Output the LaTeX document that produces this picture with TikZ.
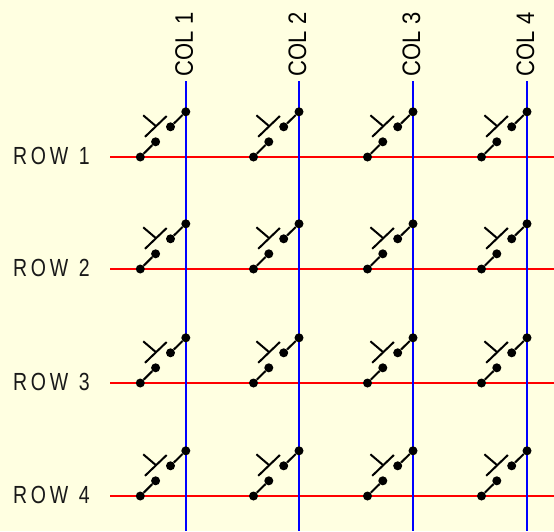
\documentclass[tikz,border=0pt]{standalone}
\usepackage{fontspec}
\setmainfont{Liberation Sans}
\definecolor{bg}{HTML}{FFFFE1}
\definecolor{wirered}{HTML}{FF0000}
\definecolor{wireblue}{HTML}{0000FF}
\tikzset{
  dotnode/.style={circle,fill=black,inner sep=0pt,minimum size=9pt},
  swline/.style={draw=black,line width=2pt},
  rowwire/.style={draw=wirered,line width=2.2pt},
  colwire/.style={draw=wireblue,line width=2.4pt},
  rowlabel/.style={anchor=base west,inner sep=0pt,text=black!90,font=\fontsize{19.5pt}{19.5pt}\selectfont\addfontfeature{LetterSpace=19},yscale=1.27},
  collabel/.style={anchor=base west,inner sep=0pt,rotate=90,yscale=1.15,text=black,font=\fontsize{22pt}{22pt}\selectfont},
}
\begin{document}
\begin{tikzpicture}[x=1pt,y=-1pt]
\path[fill=bg] (0,0) rectangle (554,531);
\useasboundingbox (0,0) rectangle (554,531);
% wires
\foreach \r/\ry in {1/157,2/269,3/383,4/496}{
  \coordinate (rs\r) at (110,\ry);
  \coordinate (re\r) at (554,\ry);
  \draw[rowwire] (rs\r) -- (re\r);
  \node[rowlabel] (rowlab\r) at (13,\ry+7.6) {ROW\hspace{1.5pt} \r};
}
\foreach \c/\cx in {1/185.8,2/299,3/413,4/527}{
  \coordinate (cs\c) at (\cx,81);
  \coordinate (ce\c) at (\cx,531);
  \draw[colwire] (cs\c) -- (ce\c);
  \node[collabel] (collab\c) at (\cx+7,76.5) {COL \c};
}
% switches
\foreach \c/\cx in {1/185.8,2/299,3/413,4/527}{
  \foreach \r/\ry in {1/157,2/269,3/383,4/496}{
    \node[dotnode] (a\c\r) at (\cx-45.5,\ry) {};
    \node[dotnode] (b\c\r) at (\cx-30.2,\ry-15.2) {};
    \node[dotnode] (d\c\r) at (\cx-15.3,\ry-30.2) {};
    \node[dotnode] (e\c\r) at (\cx,\ry-45.2) {};
    \draw[swline] (a\c\r) -- (b\c\r);
    \draw[swline] (d\c\r) -- (e\c\r);
    \coordinate (p\c\r) at (\cx-40.8,\ry-20.2);
    \coordinate (q\c\r) at (\cx-19.1,\ry-41);
    \coordinate (u\c\r) at (\cx-42.6,\ry-41.7);
    \coordinate (v\c\r) at (\cx-29.8,\ry-30.8);
    \draw[swline] (p\c\r) -- (q\c\r);
    \draw[swline] (u\c\r) -- (v\c\r);
  }
}
\end{tikzpicture}
\end{document}
